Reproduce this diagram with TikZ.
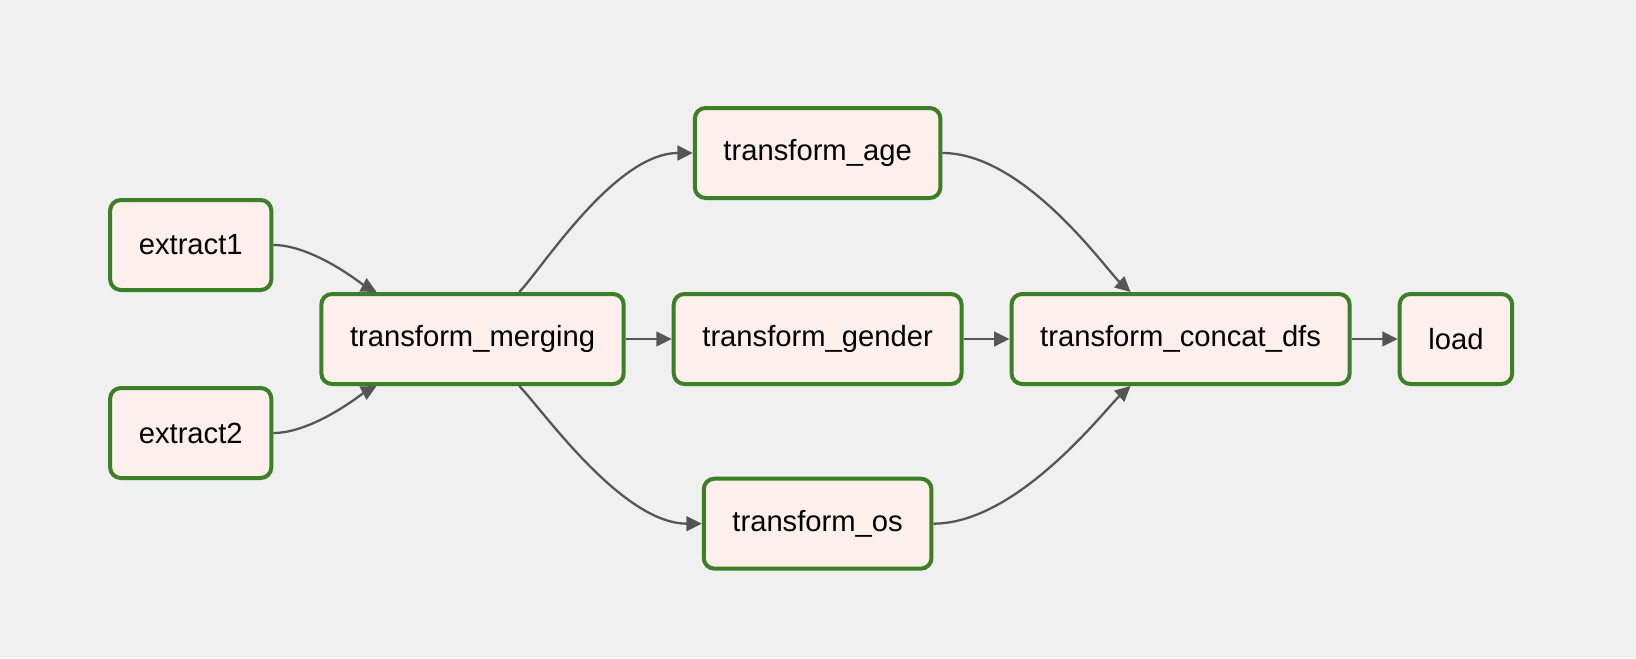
\documentclass[tikz,border=0pt]{standalone}
\usepackage{fontspec}
\setmainfont{Liberation Sans}
\usetikzlibrary{arrows.meta,positioning,backgrounds}
\definecolor{canvasgray}{HTML}{F0F0F0}
\definecolor{taskfill}{HTML}{FDEFEB}
\definecolor{successgreen}{HTML}{3B7F26}
\definecolor{edgegray}{HTML}{555555}

\begin{document}
\begin{tikzpicture}[
    font=\fontsize{21.9}{26}\selectfont,
    node distance=34.5pt,
    task/.style={
        draw=successgreen,
        fill=taskfill,
        line width=3pt,
        rounded corners=8pt,
        minimum height=67.5pt,
        inner xsep=21.5pt,
        align=center
    },
    arrow/.style={-{Triangle[length=11.5pt,width=11pt]}, line width=1.7pt, draw=edgegray},
    bend/.style={out looseness=#1, in looseness=0.35},
    bendin/.style={out looseness=0.35, in looseness=#1}
]

\node[task] (merging) {transform\_merging};
\node[task, above left=0pt and 34.5pt of merging] (extract1) {extract1};
\node[task, below left=0pt and 34.5pt of merging] (extract2) {extract2};
\node[task, right=of merging] (gender) {transform\_gender};
\node[task, above=69pt of gender] (age) {transform\_age};
\node[task, below=68pt of gender] (os) {transform\_os};
\node[task, right=of gender] (concat) {transform\_concat\_dfs};
\node[task, right=of concat] (load) {load};

\draw[arrow] (extract1.east) to[out=0, in=152, bend=0.9] ([xshift=-72pt]merging.north);
\draw[arrow] (extract2.east) to[out=0, in=-152, bend=0.9] ([xshift=-72pt]merging.south);
\draw[arrow] ([xshift=35pt]merging.north) to[out=45, in=180, bendin=0.9] (age.west);
\draw[arrow] (merging) -- (gender);
\draw[arrow] ([xshift=35pt]merging.south) to[out=-45, in=180, bendin=0.9] (os.west);
\draw[arrow] (age.east) to[out=0, in=138, bend=0.9] ([xshift=-37.5pt]concat.north);
\draw[arrow] (gender) -- (concat);
\draw[arrow] (os.east) to[out=0, in=-138, bend=0.9] ([xshift=-37.5pt]concat.south);
\draw[arrow] (concat) -- (load);

\begin{scope}[on background layer]
\fill[canvasgray] (-354.4pt,254.25pt) rectangle (872.6pt,-239.25pt);
\end{scope}
\useasboundingbox (-354.4pt,254.25pt) rectangle (872.6pt,-239.25pt);

\end{tikzpicture}
\end{document}
